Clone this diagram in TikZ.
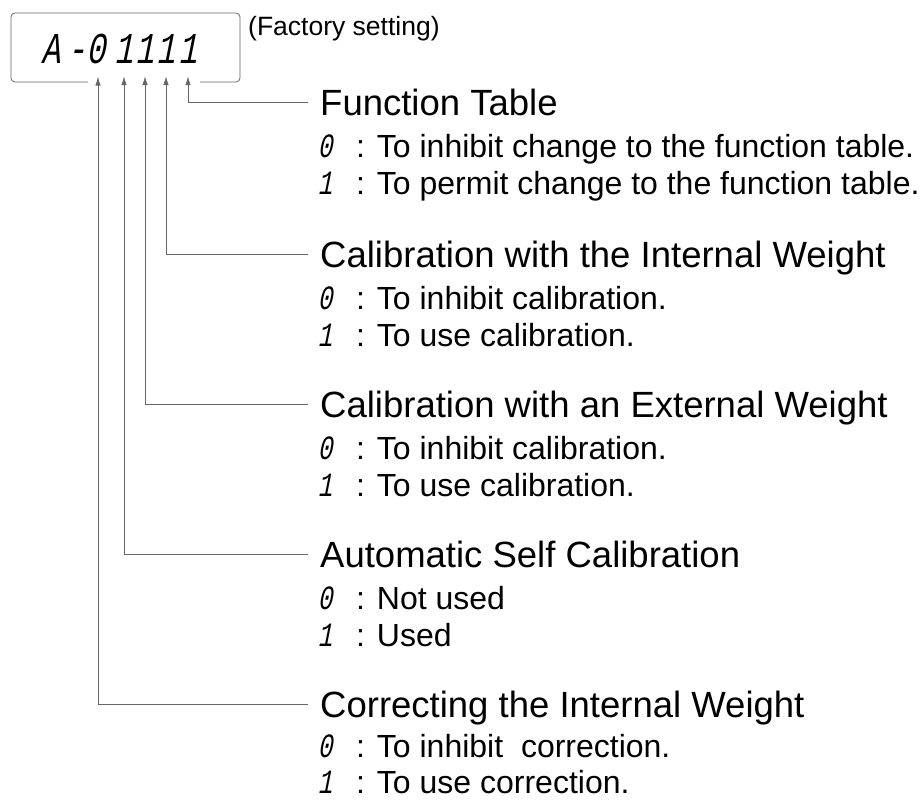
\documentclass[tikz,border=0pt]{standalone}
\usepackage{fontspec}
\setmainfont{Liberation Sans}
\newfontfamily\segfont[FakeSlant=0.2,FakeStretch=0.72]{Liberation Mono}
\usetikzlibrary{arrows.meta, positioning}

\begin{document}
\begin{tikzpicture}[x=1pt, y=-1pt,
  conn/.style={draw=black!60, line width=0.8pt},
  tip/.style={-{Latex[length=9pt,width=5.5pt]}},
  head/.style={anchor=west, inner xsep=12pt, inner ysep=0pt, text height=26pt, text depth=0pt, font=\fontsize{36.5}{40}\selectfont},
  opt/.style={anchor=base west, inner sep=0pt, font=\fontsize{32}{36}\selectfont},
  seg/.style={anchor=base, inner sep=0pt, font=\segfont\fontsize{34}{36}\selectfont},
  digit/.style={anchor=base, inner sep=0pt, font=\segfont\fontsize{44}{48}\selectfont}]
  \def\yF{102}  % function table
  \def\yI{254}  % internal weight
  \def\yE{404}  % external weight
  \def\yS{554}  % self calibration
  \def\yC{704}  % correcting
  \useasboundingbox (0,0) rectangle (920,804);

  % display
  \draw[black!60, line width=0.8pt, rounded corners=4pt]
    (88,82) -- (11,82) -- (11,13) -- (240,13) -- (240,82) -- (200,82);
  \node[digit] (dA)    at (51,63)  {A};
  \node[digit] (dDash) at (77,63)  {-};
  \node[digit] (dCorr) at (96,63)  {0};
  \node[digit] (dAuto) at (124,63) {1};
  \node[digit] (dExt)  at (145,63) {1};
  \node[digit] (dInt)  at (166,63) {1};
  \node[digit] (dFunc) at (188,63) {1};
  \node[anchor=base west, inner sep=0pt, font=\fontsize{26.5}{28}\selectfont] (fact) at (248,35) {(Factory setting)};

  % function table
  \node[head] (hFunc) at (308,\yF) {Function Table};
  \node[seg] (sF0) at (325,\yF+55) {0};
  \node[opt] (tF0) at (356,\yF+55) {: To inhibit change to the function table.};
  \node[seg] (sF1) at (325,\yF+92) {1};
  \node[opt] (tF1) at (356,\yF+92) {: To permit change to the function table.};

  % calibration, internal weight
  \node[head] (hInt) at (308,\yI) {Calibration with the Internal Weight};
  \node[seg] (sI0) at (325,\yI+55) {0};
  \node[opt] (tI0) at (356,\yI+55) {: To inhibit calibration.};
  \node[seg] (sI1) at (325,\yI+92) {1};
  \node[opt] (tI1) at (356,\yI+92) {: To use calibration.};

  % calibration, external weight
  \node[head] (hExt) at (308,\yE) {Calibration with an External Weight};
  \node[seg] (sE0) at (325,\yE+55) {0};
  \node[opt] (tE0) at (356,\yE+55) {: To inhibit calibration.};
  \node[seg] (sE1) at (325,\yE+92) {1};
  \node[opt] (tE1) at (356,\yE+92) {: To use calibration.};

  % automatic self calibration
  \node[head] (hAuto) at (308,\yS) {Automatic Self Calibration};
  \node[seg] (sS0) at (325,\yS+55) {0};
  \node[opt] (tS0) at (356,\yS+55) {: Not used};
  \node[seg] (sS1) at (325,\yS+92) {1};
  \node[opt] (tS1) at (356,\yS+92) {: Used};

  % correcting the internal weight
  \node[head] (hCorr) at (308,\yC) {Correcting the Internal Weight};
  \node[seg] (sC0) at (325,\yC+53) {0};
  \node[opt] (tC0) at (356,\yC+53) {: To inhibit\ \ correction.};
  \node[seg] (sC1) at (325,\yC+89) {1};
  \node[opt] (tC1) at (356,\yC+89) {: To use correction.};

  % arrows to the digits
  \draw[conn,tip] (hFunc.west) -| ([yshift=-13pt]dFunc.south);
  \draw[conn,tip] (hInt.west)  -| ([yshift=-13pt]dInt.south);
  \draw[conn,tip] (hExt.west)  -| ([yshift=-13pt]dExt.south);
  \draw[conn,tip] (hAuto.west) -| ([yshift=-13pt]dAuto.south);
  \draw[conn,tip] (hCorr.west) -| ([xshift=2pt,yshift=-13pt]dCorr.south);
\end{tikzpicture}
\end{document}
